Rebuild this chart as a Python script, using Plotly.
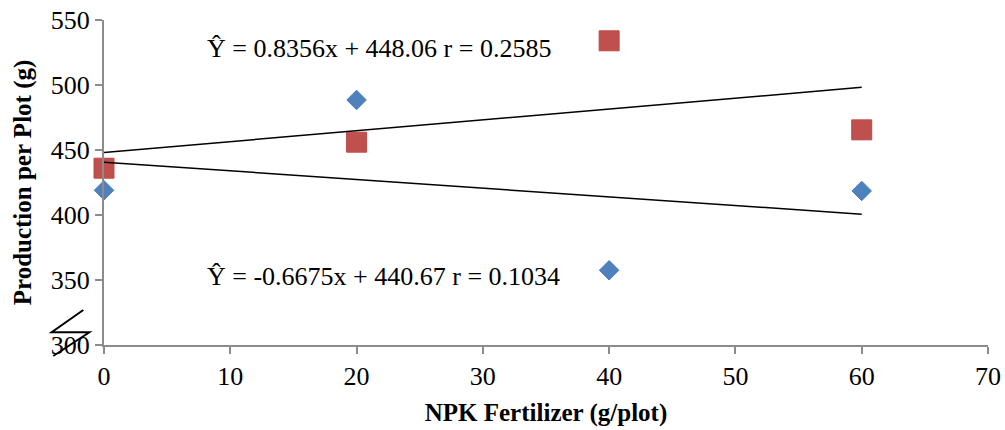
import plotly.graph_objects as go

# Data
fert_levels = [0, 20, 40, 60]
series_blue = [419, 488.5, 357.5, 418.5]
series_red = [436, 456, 534, 465.5]
trend_slopes = {"red": 0.8356, "blue": -0.6675}
trend_intercepts = {"red": 448.06, "blue": 440.67}
trend_x = [0, 60]
eq_texts = ["Ŷ = 0.8356x + 448.06 r = 0.2585", "Ŷ = -0.6675x + 440.67 r = 0.1034"]
x_ticks = [0, 10, 20, 30, 40, 50, 60, 70]
y_ticks = [300, 350, 400, 450, 500, 550]

FONT = "Times New Roman, Liberation Serif, serif"
AXIS_COLOR = "#8c8c8c"

fig = go.Figure()

fig.add_trace(go.Scatter(
    x=fert_levels, y=series_blue, mode="markers",
    marker=dict(symbol="diamond", size=15, color="#4F81BD",
                line=dict(color="#4A7EBB", width=1)),
    showlegend=False, cliponaxis=False))
fig.add_trace(go.Scatter(
    x=fert_levels, y=series_red, mode="markers",
    marker=dict(symbol="square", size=20, color="#C0504D",
                line=dict(color="#BE4B48", width=1)),
    showlegend=False, cliponaxis=False))

for key in ["red", "blue"]:
    ys = [trend_slopes[key] * xv + trend_intercepts[key] for xv in trend_x]
    fig.add_trace(go.Scatter(
        x=trend_x, y=ys, mode="lines",
        line=dict(color="black", width=1.5),
        showlegend=False, hoverinfo="skip"))

fig.add_annotation(x=8.0, y=528, xref="x", yref="y", text=eq_texts[0],
                   showarrow=False, xanchor="left", yanchor="middle",
                   font=dict(family=FONT, size=26, color="black"))
fig.add_annotation(x=8.0, y=353, xref="x", yref="y", text=eq_texts[1],
                   showarrow=False, xanchor="left", yanchor="middle",
                   font=dict(family=FONT, size=26, color="black"))

# axis break symbol
fig.add_shape(type="path", xref="paper", yref="paper",
              path="M -0.0234 0.1077 L -0.0592 0.0391 L -0.0166 0.0391 L -0.0574 -0.0338",
              line=dict(color="black", width=2))

fig.update_layout(
    width=1005, height=430,
    margin=dict(l=104, r=17, t=20, b=85),
    plot_bgcolor="white", paper_bgcolor="white",
    font=dict(family=FONT, size=26, color="black"),
    xaxis=dict(range=[0, 70], tickvals=x_ticks, showgrid=False, zeroline=False,
               showline=True, linecolor=AXIS_COLOR, linewidth=2, automargin=False,
               ticks="outside", ticklen=7, tickcolor=AXIS_COLOR, tickwidth=2,
               tickfont=dict(family=FONT, size=26),
               title=dict(text="<b>NPK Fertilizer (g/plot)</b>",
                          font=dict(family=FONT, size=25), standoff=13)),
    yaxis=dict(range=[300, 550], tickvals=y_ticks, showgrid=False, zeroline=False,
               showline=True, linecolor=AXIS_COLOR, linewidth=2, automargin=False,
               ticks="outside", ticklen=7, tickcolor=AXIS_COLOR, tickwidth=2,
               tickfont=dict(family=FONT, size=26),
               title=dict(text="<b>Production per Plot (g)</b>",
                          font=dict(family=FONT, size=25), standoff=12)),
)

fig.write_html("out.html", config={"displayModeBar": False},
               post_script="document.body.style.margin='0';document.body.style.padding='0';")
